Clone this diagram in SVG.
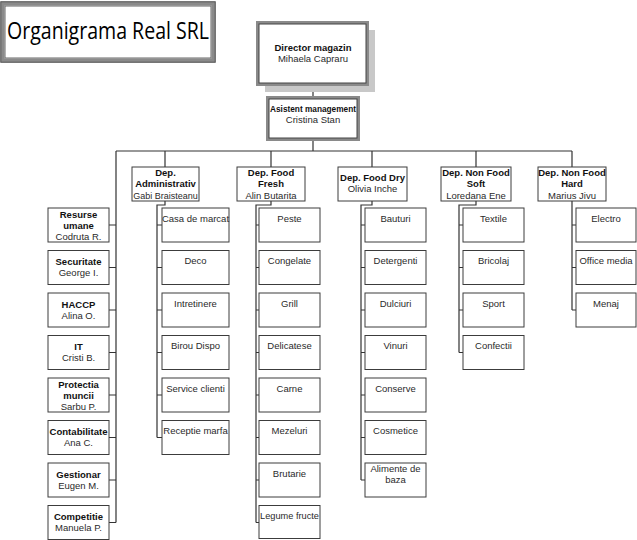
<svg xmlns="http://www.w3.org/2000/svg" width="637" height="540" viewBox="0 0 637 540">
<defs>
<style>
.bx{fill:#fff;stroke:#3c3c3c;stroke-width:1}
.ln{fill:none;stroke:#333;stroke-width:1.2}
text{font-family:"Liberation Sans",Arial,sans-serif;font-size:9.5px;fill:#2a2a2a;text-anchor:middle}
.b{font-weight:bold;fill:#111}
.d{font-size:9px}
.t{font-family:"Open Sans","Liberation Sans",sans-serif;font-size:24px;fill:#000;text-anchor:start}
</style>
</defs>
<rect width="637" height="540" fill="#fff"/>

<g id="title">
<rect x="2.5" y="3.5" width="211" height="57" fill="#fff" stroke="#8a8a8a" stroke-width="4"/>
<rect x="0.8" y="1.8" width="214.4" height="60.4" fill="none" stroke="#555" stroke-width="1"/>
<rect x="5" y="6" width="206" height="52" fill="none" stroke="#666" stroke-width="1"/>
<text class="t" x="7" y="39" textLength="202" lengthAdjust="spacingAndGlyphs">Organigrama Real SRL</text>
</g>

<g id="connectors">
<path class="ln" d="M313,84V97M313,140V151M116,151H572M165,151V167M271,151V167M372,151V167M476,151V167M572,151V167M116,151V522.5"/>
<path class="ln" d="M109,225H116M109,267.5H116M109,310H116M109,352.5H116M109,395H116M109,437.5H116M109,480H116M109,522.5H116"/>
<path class="ln" d="M165,201V205H157V437.5M157,225H162M157,267.5H162M157,310H162M157,352.5H162M157,395H162M157,437.5H162"/>
<path class="ln" d="M271,201V205H256V522.5M256,225H259M256,267.5H259M256,310H259M256,352.5H259M256,395H259M256,437.5H259M256,480H259M256,522.5H259"/>
<path class="ln" d="M372,201V205H361V480M361,225H365M361,267.5H365M361,310H365M361,352.5H365M361,395H365M361,437.5H365M361,480H365"/>
<path class="ln" d="M476,201V205H459V352.5M459,225H463M459,267.5H463M459,310H463M459,352.5H463"/>
<path class="ln" d="M572,201V310M572,225H576M572,267.5H576M572,310H576"/>
</g>

<g id="director">
<rect x="265" y="30" width="110" height="62" fill="#c8c8c8"/>
<rect x="257.5" y="22.5" width="110" height="62" fill="#fff" stroke="#8a8a8a" stroke-width="3"/>
<rect x="259" y="24" width="107" height="59" fill="none" stroke="#444" stroke-width="1"/>
<text class="b" x="313" y="50.5" font-size="10">Director magazin</text>
<text x="313" y="61.5" font-size="10">Mihaela Capraru</text>
</g>

<g id="asistent">
<rect x="267.5" y="97.5" width="91" height="42" fill="#fff" stroke="#8a8a8a" stroke-width="3"/>
<rect x="269" y="99" width="88" height="39" fill="none" stroke="#444" stroke-width="1"/>
<text class="b" x="313" y="112" textLength="86" lengthAdjust="spacingAndGlyphs">Asistent management</text>
<text x="313" y="123">Cristina Stan</text>
</g>

<g id="dep-admin"><rect class="bx" x="132" y="167" width="67" height="34"/>
<text class="b" x="165.5" y="175.5">Dep.</text><text class="b" x="165.5" y="187">Administrativ</text><text class="d" x="165.5" y="198.5">Gabi Braisteanu</text></g>
<g id="dep-fresh"><rect class="bx" x="237" y="167" width="68" height="34"/>
<text class="b" x="271" y="175.5">Dep. Food</text><text class="b" x="271" y="187">Fresh</text><text x="271" y="198.5">Alin Butarita</text></g>
<g id="dep-dry"><rect class="bx" x="338" y="167" width="69" height="34"/>
<text class="b" x="372.5" y="180.5">Dep. Food Dry</text><text x="372.5" y="192">Olivia Inche</text></g>
<g id="dep-soft"><rect class="bx" x="441" y="167" width="70" height="34"/>
<text class="b" x="476" y="175.5">Dep. Non Food</text><text class="b" x="476" y="187">Soft</text><text x="476" y="198.5">Loredana Ene</text></g>
<g id="dep-hard"><rect class="bx" x="538" y="167" width="68" height="34"/>
<text class="b" x="572" y="175.5">Dep. Non Food</text><text class="b" x="572" y="187">Hard</text><text x="572" y="198.5">Marius Jivu</text></g>

<g id="s-resurse"><rect class="bx" x="48" y="208" width="61" height="34"/>
<text class="b" x="78.5" y="217.5">Resurse</text><text class="b" x="78.5" y="228.5">umane</text><text x="78.5" y="240">Codruta R.</text></g>
<g id="s-securitate"><rect class="bx" x="48" y="250.5" width="61" height="34"/>
<text class="b" x="78.5" y="265">Securitate</text><text x="78.5" y="276">George I.</text></g>
<g id="s-haccp"><rect class="bx" x="48" y="293" width="61" height="34"/>
<text class="b" x="78.5" y="307.5">HACCP</text><text x="78.5" y="318.5">Alina O.</text></g>
<g id="s-it"><rect class="bx" x="48" y="335.5" width="61" height="34"/>
<text class="b" x="78.5" y="350">IT</text><text x="78.5" y="361">Cristi B.</text></g>
<g id="s-protectia"><rect class="bx" x="48" y="378" width="61" height="34"/>
<text class="b" x="78.5" y="387.5">Protectia</text><text class="b" x="78.5" y="398.5">muncii</text><text x="78.5" y="410">Sarbu P.</text></g>
<g id="s-contabilitate"><rect class="bx" x="48" y="420.5" width="61" height="34"/>
<text class="b" x="78.5" y="435" textLength="58" lengthAdjust="spacingAndGlyphs">Contabilitate</text><text x="78.5" y="446">Ana C.</text></g>
<g id="s-gestionar"><rect class="bx" x="48" y="463" width="61" height="34"/>
<text class="b" x="78.5" y="477.5">Gestionar</text><text x="78.5" y="488.5">Eugen M.</text></g>
<g id="s-competitie"><rect class="bx" x="48" y="505.5" width="61" height="34"/>
<text class="b" x="78.5" y="520">Competitie</text><text x="78.5" y="531">Manuela P.</text></g>

<g id="a-casa"><rect class="bx" x="162" y="208" width="67" height="34"/><text x="195.5" y="221.5">Casa de marcat</text></g>
<g id="a-deco"><rect class="bx" x="162" y="250.5" width="67" height="34"/><text x="195.5" y="264">Deco</text></g>
<g id="a-intretinere"><rect class="bx" x="162" y="293" width="67" height="34"/><text x="195.5" y="306.5">Intretinere</text></g>
<g id="a-birou"><rect class="bx" x="162" y="335.5" width="67" height="34"/><text x="195.5" y="349">Birou Dispo</text></g>
<g id="a-service"><rect class="bx" x="162" y="378" width="67" height="34"/><text x="195.5" y="391.5">Service clienti</text></g>
<g id="a-receptie"><rect class="bx" x="162" y="420.5" width="67" height="34"/><text x="195.5" y="434">Receptie marfa</text></g>

<g id="f-peste"><rect class="bx" x="259" y="208" width="61" height="34"/><text x="289.5" y="221.5">Peste</text></g>
<g id="f-congelate"><rect class="bx" x="259" y="250.5" width="61" height="34"/><text x="289.5" y="264">Congelate</text></g>
<g id="f-grill"><rect class="bx" x="259" y="293" width="61" height="34"/><text x="289.5" y="306.5">Grill</text></g>
<g id="f-delicatese"><rect class="bx" x="259" y="335.5" width="61" height="34"/><text x="289.5" y="349">Delicatese</text></g>
<g id="f-carne"><rect class="bx" x="259" y="378" width="61" height="34"/><text x="289.5" y="391.5">Carne</text></g>
<g id="f-mezeluri"><rect class="bx" x="259" y="420.5" width="61" height="34"/><text x="289.5" y="434">Mezeluri</text></g>
<g id="f-brutarie"><rect class="bx" x="259" y="463" width="61" height="34"/><text x="289.5" y="476.5">Brutarie</text></g>
<g id="f-legume"><rect class="bx" x="259" y="505.5" width="61" height="33"/><text x="289.5" y="519" textLength="59" lengthAdjust="spacingAndGlyphs">Legume fructe</text></g>

<g id="d-bauturi"><rect class="bx" x="365" y="208" width="61" height="34"/><text x="395.5" y="221.5">Bauturi</text></g>
<g id="d-detergenti"><rect class="bx" x="365" y="250.5" width="61" height="34"/><text x="395.5" y="264">Detergenti</text></g>
<g id="d-dulciuri"><rect class="bx" x="365" y="293" width="61" height="34"/><text x="395.5" y="306.5">Dulciuri</text></g>
<g id="d-vinuri"><rect class="bx" x="365" y="335.5" width="61" height="34"/><text x="395.5" y="349">Vinuri</text></g>
<g id="d-conserve"><rect class="bx" x="365" y="378" width="61" height="34"/><text x="395.5" y="391.5">Conserve</text></g>
<g id="d-cosmetice"><rect class="bx" x="365" y="420.5" width="61" height="34"/><text x="395.5" y="434">Cosmetice</text></g>
<g id="d-alimente"><rect class="bx" x="365" y="463" width="61" height="34"/><text x="395.5" y="471.5">Alimente de</text><text x="395.5" y="483">baza</text></g>

<g id="s-textile"><rect class="bx" x="463" y="208" width="61" height="34"/><text x="493.5" y="221.5">Textile</text></g>
<g id="s-bricolaj"><rect class="bx" x="463" y="250.5" width="61" height="34"/><text x="493.5" y="264">Bricolaj</text></g>
<g id="s-sport"><rect class="bx" x="463" y="293" width="61" height="34"/><text x="493.5" y="306.5">Sport</text></g>
<g id="s-confectii"><rect class="bx" x="463" y="335.5" width="61" height="34"/><text x="493.5" y="349">Confectii</text></g>

<g id="h-electro"><rect class="bx" x="576" y="208" width="60" height="34"/><text x="606" y="221.5">Electro</text></g>
<g id="h-office"><rect class="bx" x="576" y="250.5" width="60" height="34"/><text x="606" y="264">Office media</text></g>
<g id="h-menaj"><rect class="bx" x="576" y="293" width="60" height="34"/><text x="606" y="306.5">Menaj</text></g>
</svg>
